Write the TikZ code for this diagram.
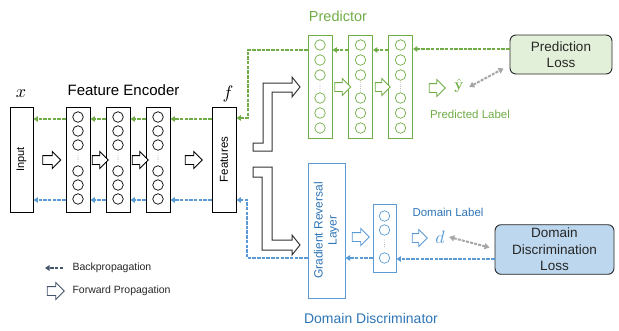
\documentclass[tikz,border=0pt]{standalone}
\usepackage[no-math]{fontspec}
\usepackage{graphicx}
\setmainfont{Liberation Sans}
\usetikzlibrary{shapes.arrows,arrows.meta}
\definecolor{grn}{HTML}{70AD47}
\definecolor{blu}{HTML}{5B9BD5}
\definecolor{blut}{HTML}{2E75B6}
\definecolor{grfill}{HTML}{E2F0D9}
\definecolor{blfill}{HTML}{BDD7EE}
\definecolor{legc}{HTML}{44546A}
\definecolor{gry}{HTML}{A6A6A6}
\definecolor{txt}{HTML}{262626}
\begin{document}
\begin{tikzpicture}[x=1pt,y=-1pt,
  layer/.style={draw, line width=0.9pt, minimum width=24, inner sep=0pt},
  neuron/.style={circle, draw, minimum size=10.5pt, inner sep=0pt, line width=0.7pt},
  fwd/.style={single arrow, draw, fill=white, line width=0.9pt, inner sep=4pt, single arrow head extend=4pt, minimum height=17pt},
  bp/.style={dash pattern=on 3.5pt off 1.2pt, line width=1.8pt, -{Triangle[length=4.5pt,width=5.5pt]}},
  gd/.style={gry, dash pattern=on 3pt off 1.2pt, line width=2pt, {Triangle[length=5pt,width=6pt]}-{Triangle[length=5pt,width=6pt]}},
  loss/.style={draw=txt, line width=0.9pt, rounded corners=6pt, align=center, text=txt, font=\fontsize{13.5}{16.5}\selectfont},
  bigarrow/.style={draw=black!80, line width=1pt, fill=white, line join=miter},
  vdots/.style={line width=0.9pt, line cap=round, dash pattern=on 0pt off 2.2pt}
]
\useasboundingbox (0,0) rectangle (619,330);

% ---------- Encoder ----------
\node[layer, minimum width=23, minimum height=105] (in) at (21.5,159.5) {};
\node[rotate=90, font=\fontsize{11}{13}\selectfont] at (in) {Input};
\foreach \n/\xx in {e1/78, e2/118, e3/158}{
  \node[layer, minimum height=105] (\n) at (\xx,159.5) {};
  \foreach \yy in {117,131,145,171,185,199} \node[neuron] at (\xx,\yy) {};
  \draw[vdots, black!45] (\xx,153) -- (\xx,163);
}
\node[layer, minimum height=105] (feat) at (224,159.5) {};
\node[rotate=90, font=\fontsize{11.5}{13}\selectfont] at (feat) {Features};

\node[font=\fontsize{15}{17}\selectfont] (fetitle) at (123.5,90) {Feature Encoder};
\node (xlab) at (21,94) {\scalebox{1.8}{$x$}};
\node (flab) at (228,94) {\scalebox{1.8}{$f$}};

\node[fwd, minimum height=18pt] (a0) at (49.5,160) {};
\node[fwd, minimum height=16pt] (a1) at (98,160) {};
\node[fwd, minimum height=16pt] (a2) at (138,160) {};
\node[fwd, minimum height=17pt] (a3) at (191.5,160) {};

% encoder backprop
\foreach \s/\t in {feat/e3, e3/e2, e2/e1, e1/in}{
  \draw[bp, grn] (\s.west |- 0,119) -- (\t.east |- 0,119);
  \draw[bp, blu] (\s.west |- 0,200) -- (\t.east |- 0,200);
}

% ---------- Predictor ----------
\node[font=\fontsize{14.5}{17}\selectfont, text=grn] (ptitle) at (338,16) {Predictor};
\foreach \n/\xx in {p1/320, p2/360.5, p3/400.5}{
  \node[layer, draw=grn, minimum height=103] (\n) at (\xx,86.5) {};
  \foreach \yy in {45,60,75,98,113,128} \node[neuron, draw=grn] at (\xx,\yy) {};
  \draw[vdots, black!35] (\xx,82) -- (\xx,92);
}
\node[fwd, draw=grn, minimum height=16pt] (pa1) at (340.5,87) {};
\node[fwd, draw=grn, minimum height=15pt] (pa2) at (380.5,87) {};
\node[fwd, draw=grn, minimum height=16pt] (pa3) at (435,88) {};

\node[loss, fill=grfill, minimum width=102, minimum height=39] (ploss) at (561,54.5) {Prediction\\Loss};
\node[text=grn] (yhat) at (459,86) {\scalebox{1.5}{$\hat{\mathbf{y}}$}};
\node[font=\fontsize{11.5}{13}\selectfont, text=grn] (plab) at (470,114) {Predicted Label};
\draw[gd] ([xshift=2pt,yshift=-1pt]yhat.east) -- ([xshift=-6pt,yshift=6pt]ploss.south west);

\draw[bp, grn] (ploss.west |- 0,49) -- (p3.east |- 0,49);
\draw[bp, grn] (p3.west |- 0,50) -- (p2.east |- 0,50);
\draw[bp, grn] (p2.west |- 0,50) -- (p1.east |- 0,50);
\coordinate (gc) at (248,118);
\draw[bp, grn] (p1.west |- 0,50) -| (gc) -- (feat.east |- gc);

% ---------- bent forward arrows ----------
\draw[bigarrow] (253,143) -- (253,151) -- (272,151) -- (272,92) -- (292,92) -- (292,97) -- (300,87) -- (292,77) -- (292,83) -- (263,83) -- (263,143) -- cycle;
\draw[bigarrow] (253,167) -- (272,167) -- (272,240) -- (292,240) -- (292,235) -- (300,245) -- (292,255) -- (292,250) -- (262,250) -- (262,177) -- (253,177) -- cycle;

% ---------- Domain discriminator ----------
\node[draw=blu, line width=1pt, minimum width=37, minimum height=135, inner sep=0pt] (grl) at (326.5,230.5) {};
\node[rotate=90, align=center, text=blut, font=\fontsize{12}{14}\selectfont] at (grl) {Gradient Reversal\\Layer};
\node[fwd, draw=blu, minimum height=17pt] (da1) at (358.5,237) {};
\node[layer, draw=blu, minimum width=23, minimum height=68] (dom) at (384.5,238) {};
\foreach \yy in {216,230,258} \node[neuron, draw=blu] at (384.5,\yy) {};
\draw[vdots, black!35] (384.5,240) -- (384.5,248);
\node[fwd, draw=blu, minimum height=15pt] (da2) at (417.5,238) {};
\node[text=blu] (dlab) at (440,237) {\scalebox{1.8}{$d$}};
\node[font=\fontsize{11.5}{13}\selectfont, text=blut] (dltxt) at (448,212) {Domain Label};
\node[loss, fill=blfill, minimum width=119, minimum height=47] (dloss) at (554.5,249.5) {Domain\\Discrimination\\Loss};
\draw[gd] ([xshift=1pt]dlab.east) -- ([xshift=-5pt,yshift=2pt]dloss.west);
\node[font=\fontsize{14}{17}\selectfont, text=blut] (dtitle) at (371,318) {Domain Discriminator};

\draw[bp, blu] (dloss.west |- 0,259) -- (dom.east |- 0,259);
\draw[bp, blu] (dom.west |- 0,258) -- (grl.east |- 0,258);
\coordinate (bc) at (247,200);
\draw[bp, blu] (grl.west |- 0,258) -| (bc) -- (feat.east |- bc);

% ---------- Legend ----------
\coordinate (lg1) at (63,268);
\coordinate (lg0) at (45,268);
\draw[bp, legc] (lg1) -- (lg0);
\node[anchor=west, text=txt, font=\fontsize{10.5}{12}\selectfont] (lbp) at (69,268) {Backpropagation};
\node[fwd, draw=legc, minimum height=17pt] (lfw) at (53.5,291) {};
\node[anchor=west, text=txt, font=\fontsize{10.5}{12}\selectfont] (lfp) at (69,291) {Forward Propagation};
\end{tikzpicture}
\end{document}
